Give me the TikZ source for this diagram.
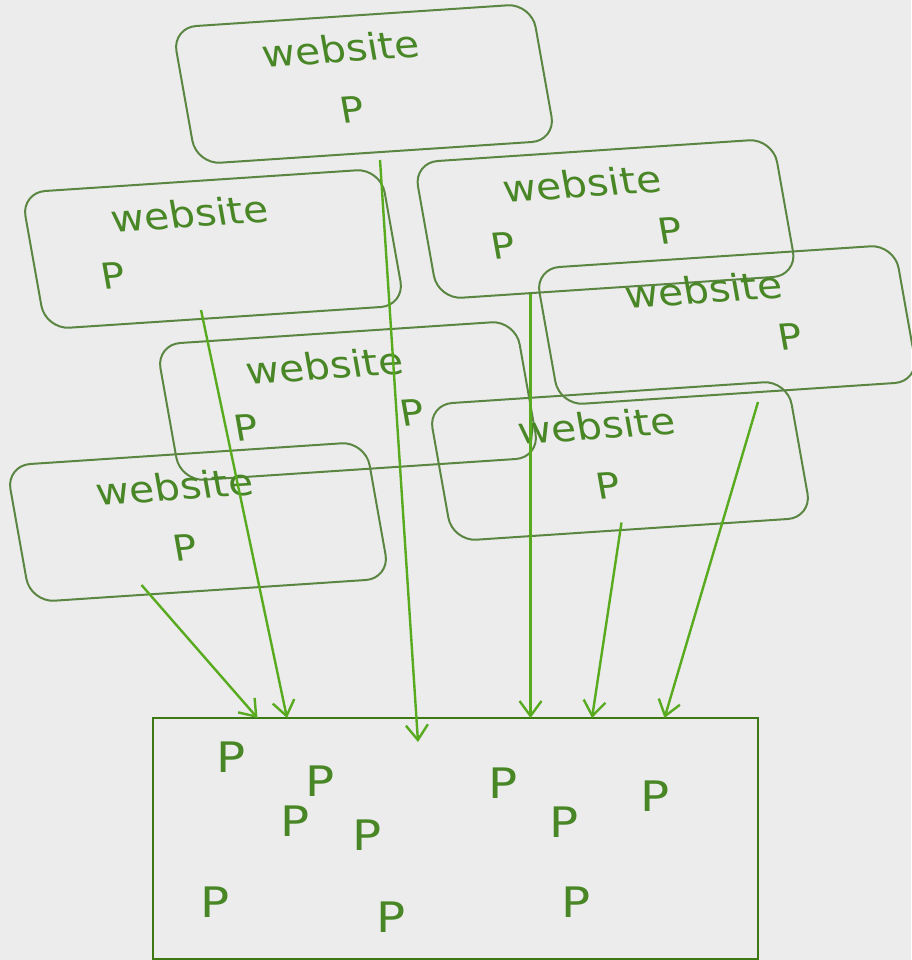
\documentclass[tikz,border=0pt]{standalone}
\usepackage{fontspec}
\setmainfont{DejaVu Sans}
\usetikzlibrary{arrows.meta,calc}
\definecolor{backdrop}{RGB}{236,236,236}
\definecolor{rim}{RGB}{90,134,66}
\definecolor{leaf}{RGB}{72,134,38}
\definecolor{feedgreen}{RGB}{88,170,30}
\definecolor{poolgreen}{RGB}{60,120,20}

\begin{document}
\begin{tikzpicture}[x=1pt,y=-1pt,
  sitebox/.style={draw=rim,line width=2pt,rounded corners=24pt,
    minimum width=360pt,minimum height=138pt,inner sep=0pt,
    rotate=3.8,xslant=-0.11},
  sitetext/.style={text=leaf,inner sep=0pt,rotate=3.8,xslant=-0.11,xscale=1.1,
    font=\fontsize{37}{40}\selectfont},
  sitep/.style={sitetext,font=\fontsize{36}{38}\selectfont},
  poolbox/.style={draw=poolgreen,line width=2.6pt,outer sep=0pt,
    minimum width=605pt,minimum height=241pt,inner sep=0pt},
  poolp/.style={text=leaf,inner sep=0pt,xscale=1.15,font=\fontsize{42}{44}\selectfont},
  feed/.style={-{Straight Barb[length=15pt,width=22pt]},line width=2.4pt,draw=feedgreen}
]
\path[use as bounding box,fill=backdrop] (0,0) rectangle (911,960);

\node[sitebox] (siteA) at (364,84) {};
\node[sitebox] (siteB) at (213,249) {};
\node[sitebox] (siteC) at (605.5,219) {};
\node[sitebox] (siteD) at (727,325) {};
\node[sitebox] (siteE) at (348,401) {};
\node[sitebox] (siteF) at (620,461) {};
\node[sitebox] (siteG) at (198,522) {};

\node[sitetext] (wA) at ($(siteA)+(-23.5,-35.5)$) {website};
\node[sitep] (pA) at ($(siteA)+(-11.5,25.5)$) {P};
\node[sitetext] (wB) at ($(siteB)+(-23.5,-35.5)$) {website};
\node[sitep] (pB) at ($(siteB)+(-100,27)$) {P};
\node[sitetext] (wC) at ($(siteC)+(-23.5,-35.5)$) {website};
\node[sitep] (pC1) at ($(siteC)+(-102,26.5)$) {P};
\node[sitep] (pC2) at ($(siteC)+(64.5,11.5)$) {P};
\node[sitetext] (wD) at ($(siteD)+(-23.5,-35.5)$) {website};
\node[sitep] (pD) at ($(siteD)+(63,11.5)$) {P};
\node[sitetext] (wE) at ($(siteE)+(-23.5,-35.5)$) {website};
\node[sitep] (pE1) at ($(siteE)+(-101.5,26.5)$) {P};
\node[sitep] (pE2) at ($(siteE)+(64.5,11.5)$) {P};
\node[sitetext] (wF) at ($(siteF)+(-23.5,-35.5)$) {website};
\node[sitep] (pF) at ($(siteF)+(-11.5,24.5)$) {P};
\node[sitetext] (wG) at ($(siteG)+(-23.5,-35.5)$) {website};
\node[sitep] (pG) at ($(siteG)+(-13,25.5)$) {P};

\node[poolbox] (pool) at (455.5,838.5) {};
\node[poolp] (q1) at (231,757) {P};
\node[poolp] (q2) at (320,781) {P};
\node[poolp] (q3) at (295,821) {P};
\node[poolp] (q4) at (367,835) {P};
\node[poolp] (q5) at (503,783) {P};
\node[poolp] (q6) at (564,822) {P};
\node[poolp] (q7) at (655,796) {P};
\node[poolp] (q8) at (215,902) {P};
\node[poolp] (q9) at (391,917) {P};
\node[poolp] (q10) at (576,902) {P};

\coordinate (outA) at ($(siteA)+(16,76)$);
\coordinate (outB) at ($(siteB)+(-12,61)$);
\coordinate (outC) at ($(siteC)+(-75,75)$);
\coordinate (outD) at ($(siteD)+(31,77)$);
\coordinate (outF) at ($(siteF)+(1.5,61.5)$);
\coordinate (outG) at ($(siteG)+(-56.5,63)$);
\coordinate (inA) at ($(pool.north west)+(265,24)$);
\coordinate (inB) at ($(pool.north west)+(134,0)$);
\coordinate (inC) at ($(pool.north west)+(377.5,0)$);
\coordinate (inD) at ($(pool.north west)+(511.5,0)$);
\coordinate (inF) at ($(pool.north west)+(439,0)$);
\coordinate (inG) at ($(pool.north west)+(104.5,0)$);

\draw[feed] (outA) -- (inA);
\draw[feed] (outB) -- (inB);
\draw[feed] (outC) -- (inC);
\draw[feed] (outD) -- (inD);
\draw[feed] (outF) -- (inF);
\draw[feed] (outG) -- (inG);
\end{tikzpicture}
\end{document}
